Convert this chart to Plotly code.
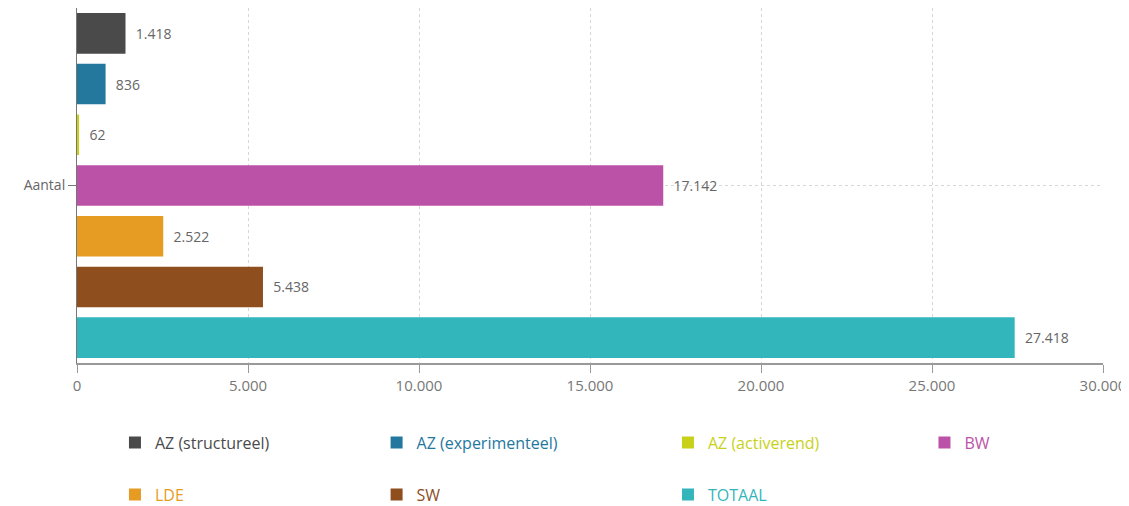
import plotly.graph_objects as go

categories = ["Aantal"]
series_names = ["AZ (structureel)", "AZ (experimenteel)", "AZ (activerend)", "BW",
                "LDE", "SW", "TOTAAL"]
series_values = [1418, 836, 62, 17142, 2522, 5438, 27418]
colors = ["#4a4a4a", "#24789e", "#c8d119", "#bc52a8", "#e69c22", "#8e4e1e", "#33b6bb"]
x_ticks = [0, 5000, 10000, 15000, 20000, 25000, 30000]

# one legend per item so the 4-column grid lines up like the original
legend_x = [0.037, 0.292, 0.576, 0.826, 0.037, 0.292, 0.576]
legend_y = [-0.176, -0.176, -0.176, -0.176, -0.3225, -0.3225, -0.3225]

fig = go.Figure()
for i, (name, val, col) in enumerate(zip(series_names, series_values, colors)):
    fig.add_trace(go.Bar(
        y=categories,
        x=[val],
        orientation="h",
        name=f"<span style='color:{col}'>{name}</span>",
        marker=dict(color=col, line=dict(width=0)),
        text=[val],
        texttemplate="  %{x:,}",
        textposition="outside",
        textfont=dict(color="#666666", size=14),
        cliponaxis=False,
        showlegend=True,
        legend="legend" if i == 0 else f"legend{i + 1}",
    ))

legends = {}
for i, (lx, ly) in enumerate(zip(legend_x, legend_y)):
    key = "legend" if i == 0 else f"legend{i + 1}"
    legends[key] = dict(
        orientation="h",
        xanchor="left",
        yanchor="top",
        x=lx,
        y=ly,
        font=dict(size=16),
        bgcolor="rgba(0,0,0,0)",
    )

fig.update_layout(
    width=1129,
    height=506,
    showlegend=True,
    barmode="group",
    bargap=0,
    bargroupgap=0.2,
    separators=",.",
    plot_bgcolor="white",
    paper_bgcolor="white",
    font=dict(family="Open Sans", color="#666666", size=14),
    margin=dict(l=69, r=34, t=0, b=151, autoexpand=False),
    xaxis=dict(
        range=[0, 30000],
        tickvals=x_ticks,
        tickformat=",",
        automargin=False,
        showgrid=True,
        gridcolor="#d6d6d6",
        griddash="dot",
        zeroline=False,
        showline=True,
        linecolor="#999999",
        linewidth=2,
        ticks="outside",
        ticklen=8,
        tickcolor="#999999",
        tickfont=dict(color="#777777", size=15),
    ),
    yaxis=dict(
        autorange="reversed",
        automargin=False,
        showgrid=True,
        gridcolor="#d6d6d6",
        griddash="dot",
        showline=True,
        linecolor="#777777",
        linewidth=1,
        ticks="outside",
        ticklen=8,
        tickcolor="#777777",
        tickfont=dict(color="#666666", size=14),
    ),
    **legends,
)

fig.write_html("out.html")
